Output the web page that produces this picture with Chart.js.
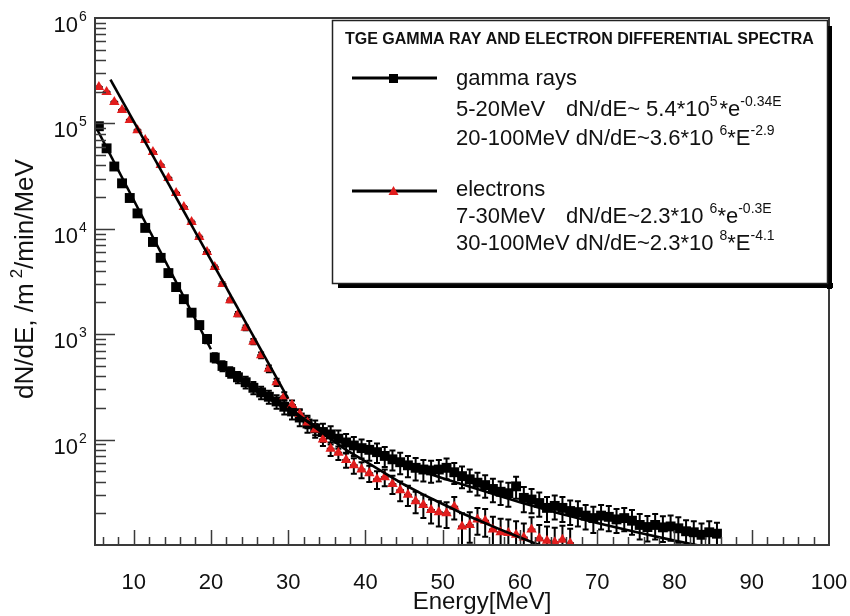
<!DOCTYPE html>
<html>
<head>
<meta charset="utf-8">
<title>TGE gamma ray and electron differential spectra</title>
<script src="https://cdn.jsdelivr.net/npm/chart.js"></script>
<style>
  html, body { margin: 0; padding: 0; background: #fff; }
  canvas { display: block; }
</style>
</head>
<body>
<canvas id="spectra" width="850" height="616"></canvas>
<script>
// bin centres in MeV (1 MeV bins)
const energyBins = [5.5, 6.5, 7.5, 8.5, 9.5, 10.5, 11.5, 12.5, 13.5, 14.5,
  15.5, 16.5, 17.5, 18.5, 19.5, 20.5, 21.5, 22.5, 23.5, 24.5,
  25.5, 26.5, 27.5, 28.5, 29.5, 30.5, 31.5, 32.5, 33.5, 34.5,
  35.5, 36.5, 37.5, 38.5, 39.5, 40.5, 41.5, 42.5, 43.5, 44.5,
  45.5, 46.5, 47.5, 48.5, 49.5, 50.5, 51.5, 52.5, 53.5, 54.5,
  55.5, 56.5, 57.5, 58.5, 59.5, 60.5, 61.5, 62.5, 63.5, 64.5,
  65.5, 66.5, 67.5, 68.5, 69.5, 70.5, 71.5, 72.5, 73.5, 74.5,
  75.5, 76.5, 77.5, 78.5, 79.5, 80.5, 81.5, 82.5, 83.5, 84.5, 85.5];

// gamma rays, dN/dE per m2 per min per MeV
const gammaFlux = [94000, 58000, 39000, 27000, 19600, 14000, 10200, 7500, 5300, 3800,
  2800, 2150, 1600, 1220, 900, 600, 500, 437, 390, 350,
  310, 280, 255, 230, 205, 185, 162, 142, 128, 118,
  112, 102, 94, 88, 83, 80, 76, 70, 65, 61,
  57, 54, 52, 51, 52, 54, 49, 45, 42, 39,
  37, 34, 32, 31, 36, 28, 27, 25, 22.5, 23.5,
  22.5, 21, 20.5, 19, 18, 19, 18.5, 17.5, 18, 17,
  15.5, 14.8, 15.5, 14.7, 15, 14.4, 13.5, 13.2, 12.5, 13.2, 12.8];
const gammaErr = [1500, 1100, 800, 650, 520, 420, 340, 280, 220, 180,
  150, 130, 110, 95, 80, 60, 55, 50, 47, 44,
  41, 38, 36, 34, 32, 30, 28, 26, 24, 23,
  22, 20, 19, 18, 17, 17, 16, 15, 14, 14,
  13, 13, 12, 12, 12, 12, 11, 10.5, 10, 9.5,
  9, 8.5, 8, 8, 8.5, 7.5, 7, 6.5, 6, 6,
  6, 5.5, 5.5, 5, 5, 5, 5, 4.5, 4.5, 4.5,
  4.2, 4, 4.2, 4, 4, 3.9, 3.7, 3.6, 3.5, 3.6, 3.5];

// electrons (same bins, up to 66.5 MeV)
const electronFlux = [221000, 199000, 160000, 134000, 108000, 86000, 69700, 53600, 40300, 30300,
  21900, 16100, 11600, 8360, 6030, 4350, 3000, 2100, 1550, 1150,
  850, 630, 470, 350, 258, 213, 175, 145, 125, 100,
  82, 75, 64, 57, 52, 48, 42, 44, 38, 33,
  30, 26, 24, 21.5, 20.5, 20, 23, 15, 15.5, 17.5,
  17, 14, 13.2, 13, 12.5, 11.8, 14, 11.5, 11, 10.6,
  11.2, 10.4];
const electronErr = [3000, 2600, 2200, 1900, 1600, 1300, 1100, 900, 750, 600,
  480, 380, 300, 230, 180, 140, 110, 85, 70, 58,
  48, 40, 34, 28, 24, 22, 19, 17, 15, 13,
  12, 11, 10, 9.5, 9, 8.5, 8, 8, 7.5, 7,
  6.5, 6, 6, 5.5, 5.5, 5.5, 5.5, 5, 5, 5,
  5, 4.5, 4.5, 4.5, 4.3, 4.2, 4.3, 4, 4, 4,
  4, 3.9];

// fit curves
const gammaExpFitE = [5, 20];
const gammaExpFitY = [96000, 720];
const gammaPowFitE = [20, 22.5, 25, 27.5, 30, 35, 40, 45, 50, 55, 60, 65, 70, 75, 80, 84];
const gammaPowFitY = [600, 430, 320, 245, 190, 118, 80, 57, 43, 33, 25.5, 20, 16.2, 13.3, 11, 9.6];
const electronExpFitE = [7, 30];
const electronExpFitY = [260000, 245];
const electronPowFitE = [30, 32.5, 35, 37.5, 40, 42.5, 45, 47.5, 50, 52.5, 55, 57.5, 60, 62.5, 64];
const electronPowFitY = [205, 148, 108, 80, 62, 48, 37.5, 30, 24.5, 20, 16.7, 14, 11.8, 10, 9.2];

// axis labels
const xTickLabels = [10, 20, 30, 40, 50, 60, 70, 80, 90, 100];
const yDecades = [2, 3, 4, 5, 6];

const FONT = '"Liberation Sans", Arial, Helvetica, sans-serif';
const RED = '#e11d1d';
const AXIS = '#3a3a3a';

function pts(xs, ys) {
  return ys.map((y, i) => ({ x: xs[i], y: y }));
}

// text with superscripts, parts like {t:'10'}, {t:'5', sup:true}, {gap:4}
function richText(ctx, x, y, parts, size, supSize, rise) {
  for (const p of parts) {
    if (p.gap) { x += p.gap; continue; }
    ctx.font = (p.sup ? supSize : size) + 'px ' + FONT;
    ctx.fillText(p.t, x, p.sup ? y - rise : y);
    x += ctx.measureText(p.t).width;
  }
  return x;
}
function richWidth(ctx, parts, size, supSize) {
  let w = 0;
  for (const p of parts) {
    if (p.gap) { w += p.gap; continue; }
    ctx.font = (p.sup ? supSize : size) + 'px ' + FONT;
    w += ctx.measureText(p.t).width;
  }
  return w;
}

// ROOT-like frame, inner ticks, error bars and the legend box
const rootStyle = {
  id: 'rootStyle',
  beforeDatasetsDraw(chart) {
    const ctx = chart.ctx, a = chart.chartArea;
    const xs = chart.scales.x, ys = chart.scales.y;
    ctx.save();
    ctx.beginPath();
    ctx.rect(a.left, a.top, a.right - a.left, a.bottom - a.top);
    ctx.clip();
    ctx.strokeStyle = '#000';
    ctx.lineWidth = 2;
    chart.data.datasets.forEach(ds => {
      if (!ds.errors) return;
      ds.data.forEach((p, i) => {
        const err = ds.errors[i];
        const x = xs.getPixelForValue(p.x);
        const y = ys.getPixelForValue(p.y);
        const yt = ys.getPixelForValue(p.y + err);
        const yb = ys.getPixelForValue(Math.max(p.y - err, 1));
        ctx.beginPath();
        ctx.moveTo(xs.getPixelForValue(p.x - 0.5), y);
        ctx.lineTo(xs.getPixelForValue(p.x + 0.5), y);
        ctx.moveTo(x, yt); ctx.lineTo(x, yb);
        ctx.moveTo(x - 3, yt); ctx.lineTo(x + 3, yt);
        ctx.moveTo(x - 3, yb); ctx.lineTo(x + 3, yb);
        ctx.stroke();
      });
    });
    ctx.restore();
  },
  afterDatasetsDraw(chart) {
    const ctx = chart.ctx, a = chart.chartArea;
    const xs = chart.scales.x, ys = chart.scales.y;
    ctx.save();

    // ticks
    ctx.strokeStyle = AXIS;
    ctx.lineWidth = 1.5;
    ctx.beginPath();
    for (let k = 1; k <= 5; k++) {
      for (let m = 1; m <= 9; m++) {
        const v = m * Math.pow(10, k);
        if (v <= 10) continue;
        const y = Math.round(ys.getPixelForValue(v)) + 0.5;
        ctx.moveTo(a.left, y);
        ctx.lineTo(a.left + (m === 1 ? 20 : 11), y);
      }
    }
    for (let e = 6; e < 100; e += 2) {
      const x = Math.round(xs.getPixelForValue(e)) + 0.5;
      ctx.moveTo(x, a.bottom);
      ctx.lineTo(x, a.bottom - (e % 10 === 0 ? 15 : 8));
    }
    ctx.stroke();

    // frame
    ctx.lineWidth = 2;
    ctx.strokeRect(a.left, a.top, a.right - a.left, a.bottom - a.top);

    // tick labels
    ctx.fillStyle = '#111';
    ctx.textBaseline = 'alphabetic';
    ctx.textAlign = 'center';
    ctx.font = '22px ' + FONT;
    xTickLabels.forEach(v => {
      ctx.fillText(String(v), xs.getPixelForValue(v), a.bottom + 44);
    });
    yDecades.forEach(p => {
      const y = ys.getPixelForValue(Math.pow(10, p));
      ctx.textAlign = 'right';
      ctx.font = '22px ' + FONT;
      ctx.fillText('10', 78, y + 14);
      ctx.textAlign = 'left';
      ctx.font = '14px ' + FONT;
      ctx.fillText(String(p), 79, y + 3);
    });

    // axis titles
    ctx.textAlign = 'center';
    ctx.font = '24px ' + FONT;
    ctx.fillText('Energy[MeV]', 482, 609);

    const yTitle = [{ t: 'dN/dE, /m' }, { gap: 5 }, { t: '2', sup: true }, { t: '/min/MeV' }];
    ctx.textAlign = 'left';
    const tw = richWidth(ctx, yTitle, 26, 17);
    ctx.translate(33, 279);
    ctx.rotate(-Math.PI / 2);
    richText(ctx, -tw / 2, 0, yTitle, 26, 17, 11);
    ctx.setTransform(1, 0, 0, 1, 0, 0);

    // legend box with ROOT shadow
    const bx = 332, by = 20, bw = 495, bh = 263;
    ctx.fillStyle = '#000';
    ctx.fillRect(bx + 6, by + bh, bw, 5);
    ctx.fillRect(bx + bw, by + 6, 5, bh);
    ctx.fillStyle = '#fff';
    ctx.fillRect(bx, by, bw, bh);
    ctx.strokeStyle = '#222';
    ctx.lineWidth = 1.5;
    ctx.strokeRect(bx + 0.5, by + 0.5, bw, bh);

    ctx.fillStyle = '#111';
    ctx.textAlign = 'left';
    ctx.font = 'bold 16px ' + FONT;
    ctx.fillText('TGE GAMMA RAY AND ELECTRON DIFFERENTIAL SPECTRA', 345, 44);

    // legend symbols
    ctx.strokeStyle = '#000';
    ctx.lineWidth = 3;
    ctx.beginPath();
    ctx.moveTo(352, 78); ctx.lineTo(437, 78);
    ctx.moveTo(352, 191); ctx.lineTo(437, 191);
    ctx.stroke();
    ctx.fillStyle = '#000';
    ctx.fillRect(389, 74, 9, 9);
    ctx.fillStyle = RED;
    ctx.beginPath();
    ctx.moveTo(393.5, 186); ctx.lineTo(398.5, 195); ctx.lineTo(388.5, 195);
    ctx.closePath();
    ctx.fill();

    // legend texts
    ctx.fillStyle = '#111';
    const S = 22, SS = 14, R = 10;
    richText(ctx, 456, 85, [{ t: 'gamma rays' }], S, SS, R);
    richText(ctx, 456, 116, [{ t: '5-20MeV' }], S, SS, R);
    richText(ctx, 566, 116, [{ t: 'dN/dE~ 5.4*10' }, { t: '5', sup: true }, { gap: 2 }, { t: '*e' }, { t: '-0.34E', sup: true }], S, SS, R);
    richText(ctx, 456, 145, [{ t: '20-100MeV dN/dE~3.6*10' }, { gap: 6 }, { t: '6', sup: true }, { t: '*E' }, { t: '-2.9', sup: true }], S, SS, R);
    richText(ctx, 456, 196, [{ t: 'electrons' }], S, SS, R);
    richText(ctx, 456, 223, [{ t: '7-30MeV' }], S, SS, R);
    richText(ctx, 566, 223, [{ t: 'dN/dE~2.3*10' }, { gap: 6 }, { t: '6', sup: true }, { t: '*e' }, { t: '-0.3E', sup: true }], S, SS, R);
    richText(ctx, 456, 250, [{ t: '30-100MeV dN/dE~2.3*10' }, { gap: 6 }, { t: '8', sup: true }, { t: '*E' }, { t: '-4.1', sup: true }], S, SS, R);

    ctx.restore();
  }
};

const fitStyle = { showLine: true, borderColor: '#000', borderWidth: 2.6, pointRadius: 0, order: 0 };

new Chart(document.getElementById('spectra').getContext('2d'), {
  type: 'scatter',
  data: {
    datasets: [
      Object.assign({ label: 'gamma 5-20MeV fit', data: pts(gammaExpFitE, gammaExpFitY) }, fitStyle),
      Object.assign({ label: 'gamma 20-100MeV fit', data: pts(gammaPowFitE, gammaPowFitY) }, fitStyle),
      Object.assign({ label: 'electron 7-30MeV fit', data: pts(electronExpFitE, electronExpFitY) }, fitStyle),
      Object.assign({ label: 'electron 30-100MeV fit', data: pts(electronPowFitE, electronPowFitY) }, fitStyle),
      {
        label: 'electrons',
        data: pts(energyBins, electronFlux),
        errors: electronErr,
        pointStyle: 'triangle',
        pointRadius: 6,
        borderWidth: 0,
        backgroundColor: RED,
        borderColor: RED,
        order: 1
      },
      {
        label: 'gamma rays',
        data: pts(energyBins, gammaFlux),
        errors: gammaErr,
        pointStyle: 'rect',
        pointRadius: 7,
        borderWidth: 0,
        backgroundColor: '#000',
        borderColor: '#000',
        order: 2
      }
    ]
  },
  options: {
    responsive: false,
    animation: false,
    events: [],
    layout: { padding: { left: 95, right: 21, top: 18, bottom: 71 } },
    plugins: { legend: { display: false }, tooltip: { enabled: false } },
    scales: {
      x: { type: 'linear', min: 5, max: 100, display: false },
      y: { type: 'logarithmic', min: 10, max: 1000000, display: false }
    }
  },
  plugins: [rootStyle]
});
</script>
</body>
</html>
